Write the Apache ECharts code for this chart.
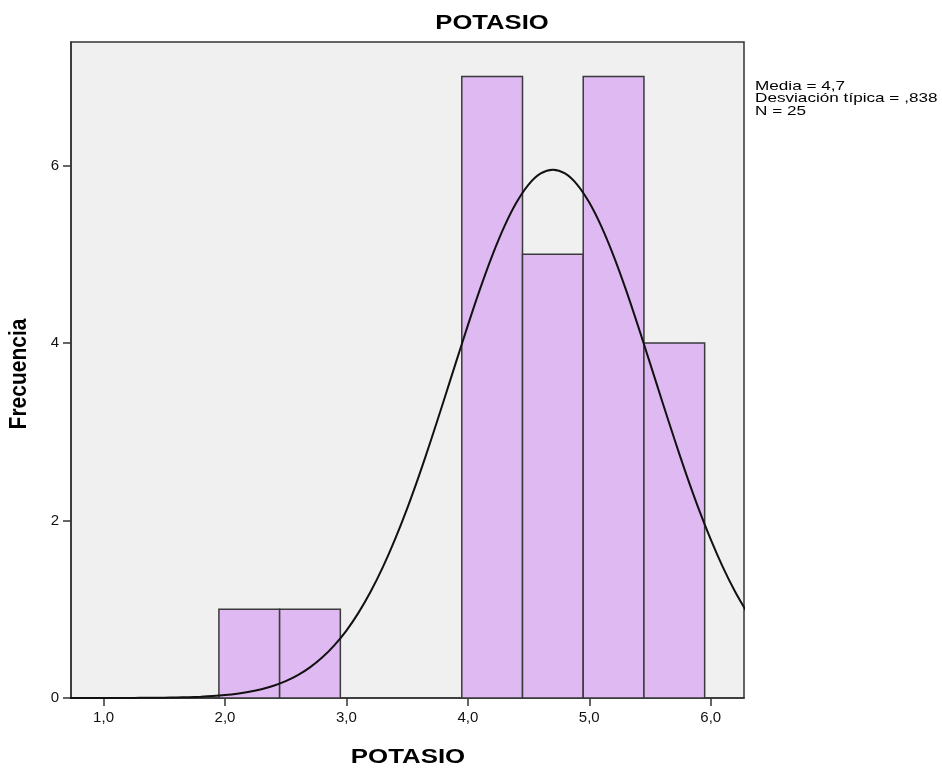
<!DOCTYPE html>
<html>
<head>
<meta charset="utf-8">
<script src="https://cdn.jsdelivr.net/npm/echarts@6/dist/echarts.min.js"></script>
<style>
html,body{margin:0;padding:0;background:#fff;}
#chart{width:942px;height:772px;}
</style>
</head>
<body>
<div id="chart"></div>
<script>
// Histogram bins (POTASIO)
var binStart = [1.95, 2.45, 3.95, 4.45, 4.95, 5.45];
var binEnd   = [2.45, 2.95, 4.45, 4.95, 5.45, 5.95];
var counts   = [1, 1, 7, 5, 7, 4];

// Fitted normal curve
var curveX = [0.7,0.8,0.9,1.0,1.1,1.2,1.3,1.4,1.5,1.6,1.7,1.8,1.9,2.0,2.1,2.2,2.3,2.4,2.5,2.6,2.7,2.8,2.9,3.0,3.1,3.2,3.3,3.4,3.5,3.6,3.7,3.8,3.9,4.0,4.1,4.2,4.3,4.4,4.5,4.6,4.7,4.8,4.9,5.0,5.1,5.2,5.3,5.4,5.5,5.6,5.7,5.8,5.9,6.0,6.1,6.2,6.3];
var curveY = [0.0001,0.0001,0.0002,0.0003,0.0006,0.0010,0.0016,0.0026,0.0041,0.0064,0.0098,0.0149,0.0224,0.0332,0.0484,0.0695,0.0985,0.138,0.190,0.258,0.345,0.455,0.593,0.760,0.962,1.199,1.474,1.787,2.134,2.514,2.920,3.343,3.773,4.198,4.606,4.981,5.310,5.581,5.784,5.909,5.951,5.909,5.784,5.581,5.310,4.981,4.606,4.198,3.773,3.343,2.920,2.514,2.134,1.787,1.474,1.199,0.962];

// Axis ticks
var xTicks = [1, 2, 3, 4, 5, 6];
var xTickLabels = ['1,0', '2,0', '3,0', '4,0', '5,0', '6,0'];
var yTicks = [0, 2, 4, 6];

var titleText = 'POTASIO';
var xName = 'POTASIO';
var yName = 'Frecuencia';
var statsLines = ['Media = 4,7', 'Desviación típica = ,838', 'N = 25'];

var FONT = '"Liberation Sans", Arial, sans-serif';

var chart = echarts.init(document.getElementById('chart'), null, {renderer: 'canvas'});

var barData = binStart.map(function (s, i) { return [s, binEnd[i], counts[i]]; });
var lineData = curveX.map(function (x, i) { return [x, curveY[i]]; });

var option = {
  backgroundColor: '#ffffff',
  animation: false,
  graphic: [
    {
      type: 'text', x: 492, y: 23, scaleX: 1.22,
      style: {text: titleText, font: 'bold 21px ' + FONT, fill: '#000', align: 'center', verticalAlign: 'middle'}
    },
    {
      type: 'text', x: 408, y: 757, scaleX: 1.23,
      style: {text: xName, font: 'bold 21px ' + FONT, fill: '#000', align: 'center', verticalAlign: 'middle'}
    },
    {
      type: 'text', x: 20, y: 374, rotation: Math.PI / 2, scaleY: 1.1,
      style: {text: yName, font: 'bold 21px ' + FONT, fill: '#000', align: 'center', verticalAlign: 'middle'}
    },
    {
      type: 'text', x: 755, y: 80, scaleX: 1.27,
      style: {text: statsLines.join('\n'), font: '13.5px ' + FONT, fill: '#000', lineHeight: 12.5}
    }
  ],
  grid: {
    left: 71, right: 198, top: 42, bottom: 74,
    show: true, backgroundColor: '#F0F0F0', borderColor: '#333', borderWidth: 1.5
  },
  xAxis: {
    type: 'value', min: 0.732, max: 6.274,
    axisLine: {show: true, lineStyle: {color: '#333', width: 1.5}},
    axisTick: {show: true, length: 8, customValues: xTicks, lineStyle: {color: '#333', width: 1.5}},
    axisLabel: {
      customValues: xTicks, margin: 12, fontFamily: FONT, fontSize: 15, color: '#111',
      formatter: function (v) { return xTickLabels[xTicks.indexOf(v)]; }
    },
    splitLine: {show: false}
  },
  yAxis: {
    type: 'value', min: 0, max: 7.39,
    axisLine: {show: true, lineStyle: {color: '#333', width: 1.5}},
    axisTick: {show: true, length: 8, customValues: yTicks, lineStyle: {color: '#333', width: 1.5}},
    axisLabel: {customValues: yTicks, margin: 12, fontFamily: FONT, fontSize: 15, color: '#111'},
    splitLine: {show: false}
  },
  series: [
    {
      type: 'custom',
      data: barData,
      encode: {x: [0, 1], y: 2},
      renderItem: function (params, api) {
        var p0 = api.coord([api.value(0), api.value(2)]);
        var p1 = api.coord([api.value(1), 0]);
        return {
          type: 'rect',
          shape: {x: p0[0], y: p0[1], width: p1[0] - p0[0], height: p1[1] - p0[1]},
          style: {fill: '#DFB9F1', stroke: '#3a3a3a', lineWidth: 1.5}
        };
      },
      z: 2
    },
    {
      type: 'line',
      data: lineData,
      showSymbol: false,
      smooth: 0.3,
      clip: true,
      lineStyle: {color: '#111', width: 2},
      z: 3
    }
  ]
};
chart.setOption(option);
</script>
</body>
</html>
